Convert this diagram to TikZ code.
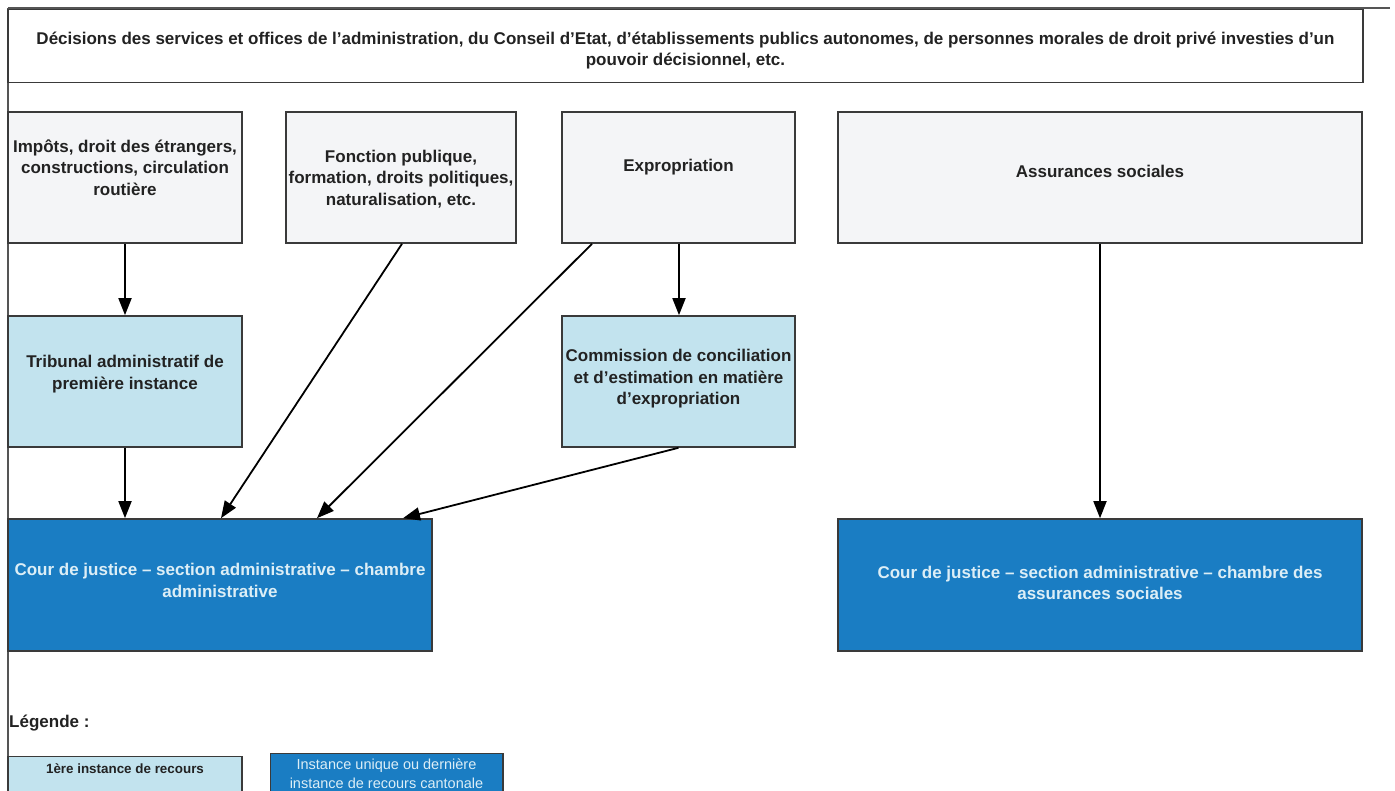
\documentclass[tikz,border=0pt]{standalone}
\usepackage{fontspec}
\setmainfont{Liberation Sans}
\usetikzlibrary{arrows.meta,positioning}
\definecolor{boxgray}{HTML}{F4F5F7}
\definecolor{lightblue}{HTML}{C2E3EE}
\definecolor{darkblue}{HTML}{1A7DC3}
\definecolor{edge}{HTML}{3A3A3A}
\definecolor{txtdark}{HTML}{222222}
\definecolor{txtlight}{HTML}{DCEEF6}
\definecolor{framegray}{HTML}{555555}
\tikzset{
  box/.style={draw=edge, line width=1.6pt, rectangle, inner sep=0pt},
  graybox/.style={box, fill=boxgray},
  lbbox/.style={box, fill=lightblue},
  dbbox/.style={box, fill=darkblue},
  lbl/.style={font=\fontsize{17}{21.5}\selectfont\bfseries, text=txtdark, align=center, inner sep=0pt},
  lbllight/.style={lbl, text=txtlight},
  arr/.style={line width=1.8pt, draw=black, -{Triangle[length=17pt,width=13pt]}},
}
\begin{document}
\begin{tikzpicture}[x=1pt,y=-1pt]
\useasboundingbox (0,0) rectangle (1395,791);
\fill[white] (0,0) rectangle (1395,791);
% frame
\draw[framegray, line width=2pt] (8,8.5) -- (1390,8.5);
\draw[framegray, line width=1.6pt] (8,8.5) -- (8,795);

% top box
\node[graybox, fill=white, minimum width=1355pt, minimum height=73pt] (top) at (685.5,46) {};
\node[lbl] (toptxt) at (685.5,50.5) {Décisions des services et offices de l’administration, du Conseil d’Etat, d’établissements publics autonomes, de personnes morales de droit privé investies d’un\\pouvoir décisionnel, etc.};

% row 2
\node[graybox, minimum width=234pt, minimum height=131pt] (b1) at (125,177.5) {};
\node[lbl] (b1txt) at (125,167.5) {Impôts, droit des étrangers,\\constructions, circulation\\routière};
\node[graybox, minimum width=230pt, minimum height=131pt] (b2) at (401,177.5) {};
\node[lbl] (b2txt) at (401,179) {Fonction publique,\\formation, droits politiques,\\naturalisation, etc.};
\node[graybox, minimum width=233pt, minimum height=131pt] (b3) at (678.5,177.5) {};
\node[lbl] (b3txt) at (678.5,167.5) {Expropriation};
\node[graybox, minimum width=524pt, minimum height=131pt] (b4) at (1100,177.5) {};
\node[lbl] (b4txt) at (1100,171) {Assurances sociales};

% row 3
\node[lbbox, minimum width=234pt, minimum height=131pt] (trib) at (125,381.5) {};
\node[lbl] (tribtxt) at (125,374) {Tribunal administratif de\\première instance};
\node[lbbox, minimum width=233pt, minimum height=131pt] (comm) at (678.5,381.5) {};
\node[lbl] (commtxt) at (678.5,379) {Commission de conciliation\\et d’estimation en matière\\d’expropriation};

% row 4
\node[dbbox, minimum width=424pt, minimum height=132pt] (cour) at (220,585) {};
\node[lbllight] (courtxt) at (220,580.5) {Cour de justice – section administrative – chambre\\administrative};
\node[dbbox, minimum width=524pt, minimum height=132pt] (cour2) at (1100,585) {};
\node[lbllight] (cour2txt) at (1100,583) {Cour de justice – section administrative – chambre des\\assurances sociales};

% legend
\node[lbl, anchor=west] (leg) at (9,723) {Légende :};
\draw[box, fill=lightblue] (8,756.5) rectangle (242,800);
\node[font=\fontsize{13.4}{16}\selectfont\bfseries, text=txtdark, inner sep=0pt] (leg1) at (125,768.5) {1ère instance de recours};
\draw[box, fill=darkblue] (270.5,753.5) rectangle (503,800);
\node[font=\fontsize{14.5}{19}\selectfont, text=txtlight, align=center, inner sep=0pt] (leg2) at (386.5,774) {Instance unique ou dernière\\instance de recours cantonale};

% connectors
\draw[arr] (b1.south) -- (trib.north);
\draw[arr] (trib.south) -- ([xshift=-95pt]cour.north);
\draw[arr] ([xshift=1pt]b2.south) -- ([xshift=1pt]cour.north);
\draw[arr] ([xshift=-86.5pt]b3.south) -- ([xshift=97pt]cour.north);
\draw[arr] ([xshift=0.5pt]b3.south) -- ([xshift=0.5pt]comm.north);
\draw[arr] (comm.south) -- ([xshift=183pt]cour.north);
\draw[arr] (b4.south) -- (cour2.north);
\end{tikzpicture}
\end{document}
